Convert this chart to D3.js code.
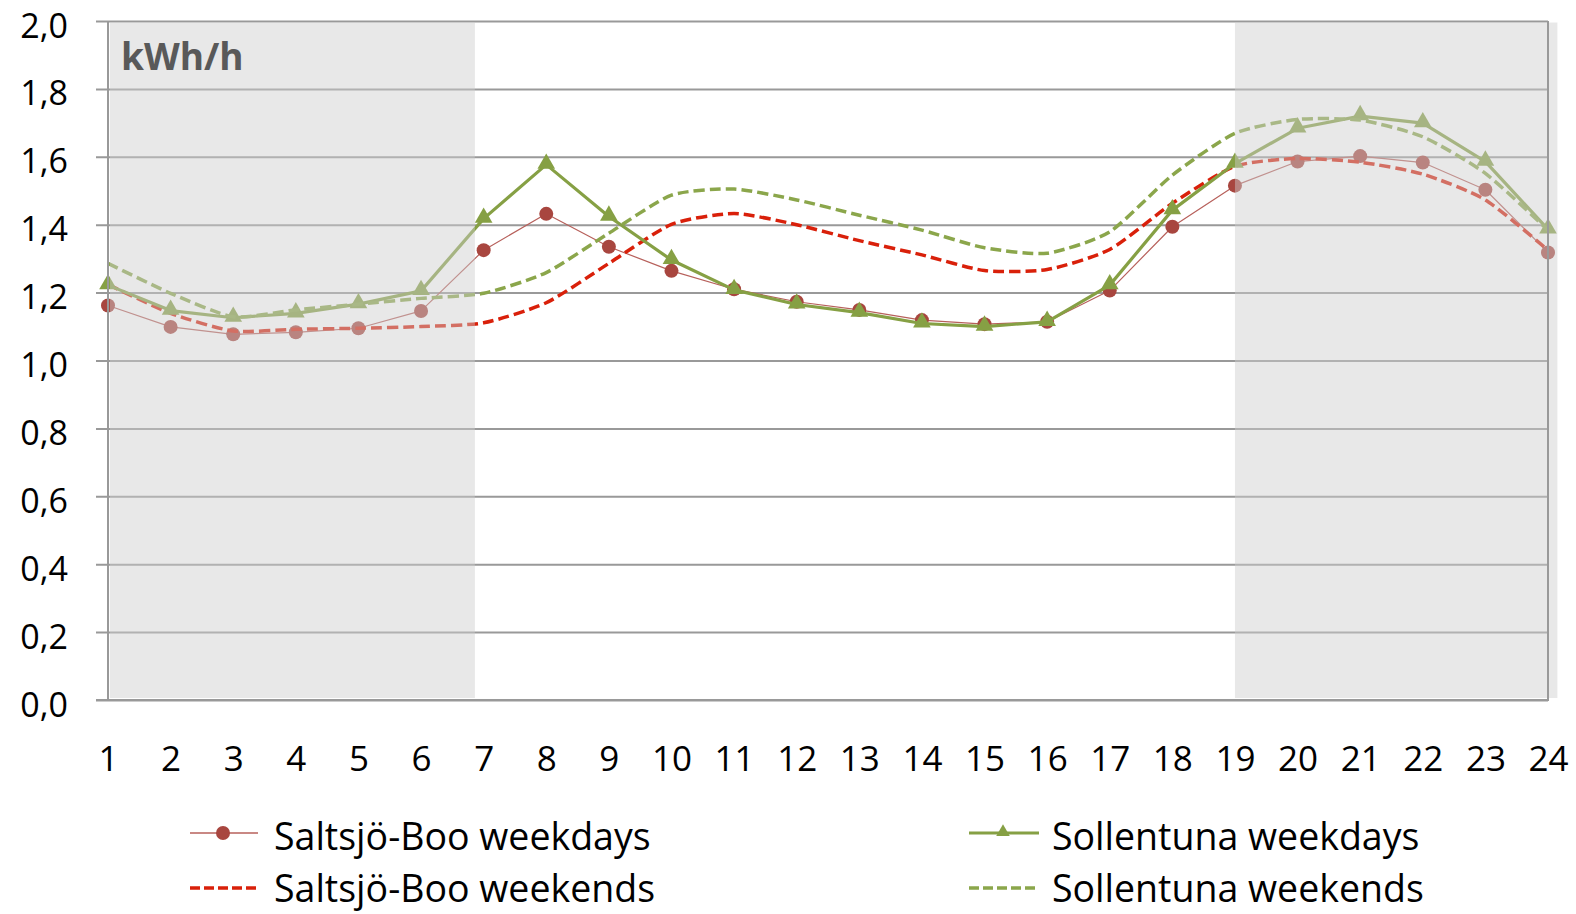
<!DOCTYPE html>
<html>
<head>
<meta charset="utf-8">
<script src="https://cdn.jsdelivr.net/npm/d3@7"></script>
<style>
  html, body { margin: 0; padding: 0; background: #fff; }
  svg { display: block; }
  text { font-family: "Open Sans", "Noto Sans", sans-serif; }
</style>
</head>
<body>
<svg id="chart" width="1576" height="914"></svg>
<script>
// Hour of day (1–24)
const hours = d3.range(1, 25);

// Average hourly load, kWh/h
const saltsjoWeekdays = [1.162, 1.099, 1.077, 1.083, 1.095, 1.146, 1.325, 1.432, 1.335, 1.264, 1.210, 1.173,
                         1.149, 1.119, 1.107, 1.114, 1.206, 1.394, 1.515, 1.586, 1.602, 1.583, 1.503, 1.318];
const saltsjoWeekends = [1.224, 1.139, 1.087, 1.092, 1.095, 1.100, 1.111, 1.170, 1.286, 1.401, 1.433, 1.400,
                         1.353, 1.311, 1.265, 1.268, 1.327, 1.463, 1.572, 1.595, 1.584, 1.549, 1.473, 1.325];
const sollentunaWeekdays = [1.222, 1.147, 1.126, 1.139, 1.166, 1.205, 1.418, 1.577, 1.424, 1.296, 1.208, 1.165,
                            1.141, 1.109, 1.100, 1.114, 1.222, 1.443, 1.580, 1.684, 1.720, 1.699, 1.586, 1.386];
const sollentunaWeekends = [1.286, 1.198, 1.129, 1.149, 1.166, 1.183, 1.198, 1.259, 1.375, 1.487, 1.505, 1.473,
                            1.428, 1.384, 1.332, 1.316, 1.379, 1.546, 1.669, 1.710, 1.708, 1.659, 1.551, 1.384];

const seriesNames = ["Saltsjö-Boo weekdays", "Saltsjö-Boo weekends", "Sollentuna weekdays", "Sollentuna weekends"];
const yTicks = [0, 0.2, 0.4, 0.6, 0.8, 1.0, 1.2, 1.4, 1.6, 1.8, 2.0];
const unitLabel = "kWh/h";

// Dark-hour bands (in hour units)
const darkBands = [[1.03, 6.86], [19, 24.15]];

const series = [
  { name: seriesNames[0], values: saltsjoWeekdays, color: "#b7605b", width: 1.2, dash: null, marker: "circle", markerColor: "#a8463f", smooth: false },
  { name: seriesNames[1], values: saltsjoWeekends, color: "#d9200a", width: 3.5, dash: "11,5", marker: null, smooth: true },
  { name: seriesNames[2], values: sollentunaWeekdays, color: "#86a044", width: 3.2, dash: null, marker: "triangle", markerColor: "#86a044", smooth: false },
  { name: seriesNames[3], values: sollentunaWeekends, color: "#8ba64b", width: 3.5, dash: "11,5", marker: null, smooth: true }
];

const svg = d3.select("#chart");
const x = d3.scaleLinear().domain([1, 24]).range([108, 1548]);
const y = d3.scaleLinear().domain([0, 2]).range([700, 21]);

const commaLocale = d3.formatLocale({ decimal: ",", thousands: " ", grouping: [3], currency: ["", " kr"] });
const fmt = commaLocale.format(".1f");

// Horizontal gridlines with outside ticks
const yAxis = svg.append("g")
  .attr("transform", `translate(${x(24)},0)`)
  .call(d3.axisLeft(y).tickValues(yTicks).tickSize(x(24) - 96).tickFormat(fmt));
yAxis.select(".domain").remove();
yAxis.selectAll(".tick line").attr("stroke", "#999").attr("stroke-width", 2);
yAxis.selectAll(".tick text")
  .attr("fill", "#000").style("font-size", "34px")
  .attr("x", 68 - x(24)).attr("dy", null).attr("y", 16);

// Series lines
const lineStraight = d3.line().x((d, i) => x(hours[i])).y(d => y(d));
const lineSmooth = d3.line().x((d, i) => x(hours[i])).y(d => y(d)).curve(d3.curveCardinal.tension(0.35));

const triangle = d3.symbol().type(d3.symbolTriangle).size(135);

series.forEach(s => {
  const g = svg.append("g");
  g.append("path")
    .attr("d", (s.smooth ? lineSmooth : lineStraight)(s.values))
    .attr("fill", "none")
    .attr("stroke", s.color)
    .attr("stroke-width", s.width)
    .attr("stroke-dasharray", s.dash)
    .attr("stroke-linejoin", "round");
  if (s.marker === "circle") {
    g.selectAll("circle").data(s.values).join("circle")
      .attr("cx", (d, i) => x(hours[i])).attr("cy", d => y(d)).attr("r", 7)
      .attr("fill", s.markerColor);
  } else if (s.marker === "triangle") {
    g.selectAll("path.m").data(s.values).join("path").attr("class", "m")
      .attr("d", triangle)
      .attr("transform", (d, i) => `translate(${x(hours[i])},${y(d) - 1})`)
      .attr("fill", s.markerColor);
  }
});

// Translucent bands over the dark hours
svg.append("g").selectAll("rect").data(darkBands).join("rect")
  .attr("x", d => x(d[0]))
  .attr("width", d => x(d[1]) - x(d[0]))
  .attr("y", y(2) + 1.5)
  .attr("height", y(0) - y(2) - 3.5)
  .attr("fill", "rgb(205,205,205)")
  .attr("opacity", 0.46);

// Axis frame: left axis, right border
const frame = svg.append("g").attr("stroke", "#999").attr("stroke-width", 2);
frame.append("line").attr("x1", x(1)).attr("x2", x(1)).attr("y1", y(2)).attr("y2", y(0));
frame.append("line").attr("x1", x(24)).attr("x2", x(24)).attr("y1", y(2)).attr("y2", y(0) + 1);

// Hour labels
const xAxis = svg.append("g")
  .attr("transform", `translate(0,${y(0)})`)
  .call(d3.axisBottom(x).tickValues(hours).tickSize(0).tickFormat(d3.format("d")));
xAxis.select(".domain").attr("stroke", "#999").attr("stroke-width", 2).attr("d", `M96,0H${x(24)}`);
xAxis.selectAll(".tick text")
  .attr("fill", "#000").style("font-size", "35px")
  .attr("dy", null).attr("y", 71);

// Unit label
svg.append("text")
  .attr("x", 121).attr("y", 70)
  .attr("fill", "#595959")
  .style("font-size", "37px").style("font-weight", "bold")
  .text(unitLabel);

// Legend
const legendPos = [
  { lx: 190, rx: 258, tx: 274, ty: 833, base: 850 },
  { lx: 190, rx: 258, tx: 274, ty: 888, base: 902 },
  { lx: 969, rx: 1039, tx: 1052, ty: 833, base: 850 },
  { lx: 969, rx: 1039, tx: 1052, ty: 888, base: 902 }
];
series.forEach((s, i) => {
  const p = legendPos[i];
  const g = svg.append("g");
  g.append("line")
    .attr("x1", p.lx).attr("x2", p.rx).attr("y1", p.ty).attr("y2", p.ty)
    .attr("stroke", s.color).attr("stroke-width", s.marker === "circle" ? 1.5 : s.width)
    .attr("stroke-dasharray", s.dash ? "10,4" : null);
  if (s.marker === "circle") {
    g.append("circle").attr("cx", (p.lx + p.rx) / 2 - 1).attr("cy", p.ty).attr("r", 7).attr("fill", s.markerColor);
  } else if (s.marker === "triangle") {
    g.append("path").attr("d", d3.symbol().type(d3.symbolTriangle).size(80))
      .attr("transform", `translate(${(p.lx + p.rx) / 2 - 1},${p.ty - 1})`).attr("fill", s.markerColor);
  }
  g.append("text")
    .attr("x", p.tx).attr("y", p.base)
    .attr("fill", "#000").style("font-size", "37.5px")
    .text(s.name);
});
</script>
</body>
</html>
